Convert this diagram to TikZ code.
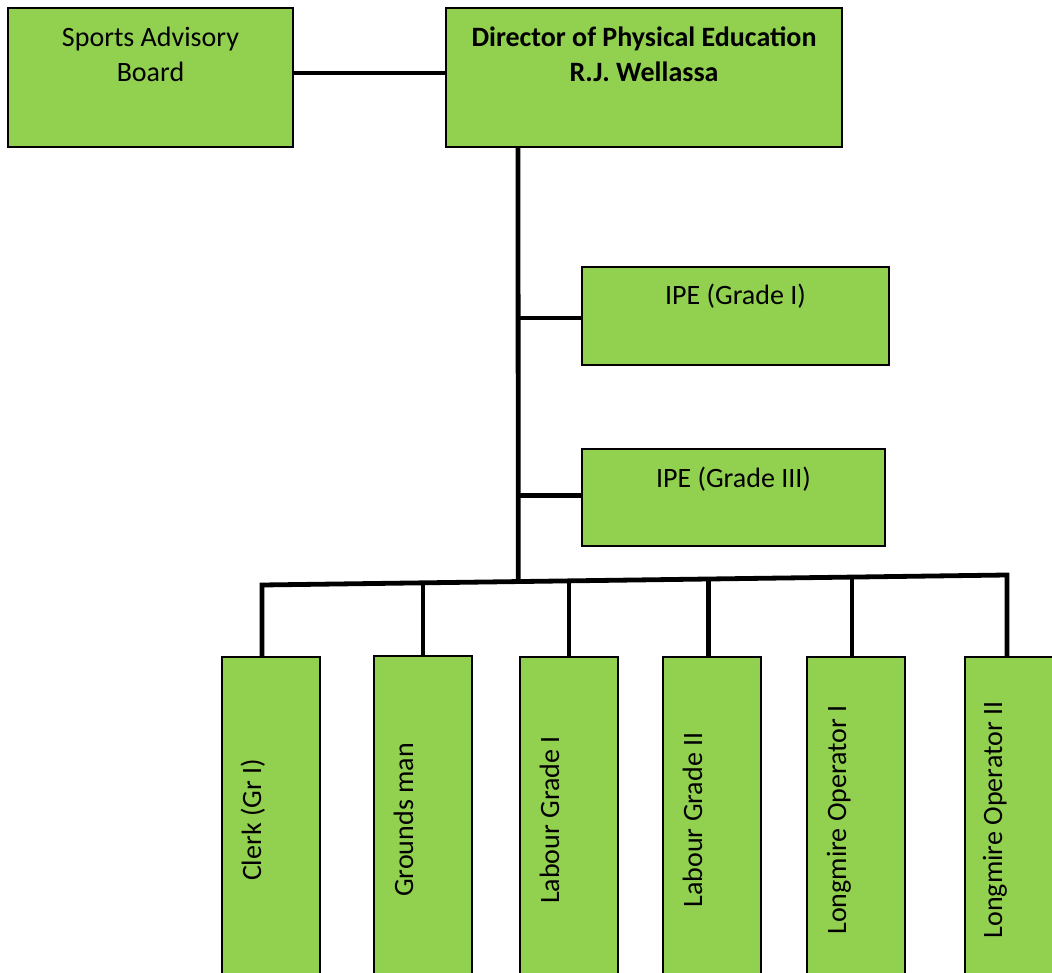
\documentclass[tikz,border=0pt]{standalone}
\usepackage{fontspec}
\setmainfont{Carlito}
\usetikzlibrary{calc}
\definecolor{boxgreen}{HTML}{92D050}
\begin{document}
\begin{tikzpicture}[x=1pt,y=-1pt,
  box/.style={draw=black,fill=boxgreen,line width=2.6pt,inner sep=0pt,outer sep=0pt,anchor=north west},
  conn/.style={line width=4.8pt,draw=black},
  lbl/.style={font=\fontsize{28}{35}\selectfont,inner sep=0pt,align=center},
  vlbl/.style={font=\fontsize{28}{35}\selectfont,inner sep=0pt,rotate=90,anchor=base}]
\useasboundingbox (0,0) rectangle (1052,973);
\clip (0,0) rectangle (1052,973);

% top boxes
\node[box,minimum width=285pt,minimum height=139pt] (sab) at (8,8) {};
\node[box,minimum width=396pt,minimum height=139pt] (dir) at (446,8) {};
\node[lbl,anchor=north] (sabT) at ($(sab.north)+(0,19)$) {Sports Advisory\\Board};
\node[lbl,anchor=north] (dirT) at ($(dir.north)+(0,19)$) {\bfseries Director of Physical Education\\\bfseries R.J. Wellassa};

% IPE boxes
\node[box,minimum width=307pt,minimum height=98pt] (ipe1) at (582,267) {};
\node[box,minimum width=303pt,minimum height=97pt] (ipe3) at (582,449) {};
\node[lbl,anchor=base] (ipe1T) at ($(ipe1.north)+(0,38)$) {IPE (Grade I)};
\node[lbl,anchor=base] (ipe3T) at ($(ipe3.north)+(0,38)$) {IPE (Grade III)};

% bottom boxes
\node[box,minimum width=98pt,minimum height=340pt] (clerk) at (222,657) {};
\node[box,minimum width=98pt,minimum height=340pt] (grounds) at (374,656) {};
\node[box,minimum width=98pt,minimum height=340pt] (lab1) at (520,657) {};
\node[box,minimum width=98pt,minimum height=340pt] (lab2) at (663,657) {};
\node[box,minimum width=98pt,minimum height=340pt] (lm1) at (807,657) {};
\node[box,minimum width=98pt,minimum height=340pt] (lm2) at (965,657) {};

\node[vlbl] (clerkT) at ($(clerk.north)+(-10,163)$) {Clerk (Gr I)};
\node[vlbl] (groundsT) at ($(grounds.north)+(-10,164)$) {Grounds man};
\node[vlbl] (lab1T) at ($(lab1.north)+(-10,163)$) {Labour Grade I};
\node[vlbl] (lab2T) at ($(lab2.north)+(-10,163)$) {Labour Grade II};
\node[vlbl] (lm1T) at ($(lm1.north)+(-10,163)$) {Longmire Operator I};
\node[vlbl] (lm2T) at ($(lm2.north)+(-12,163)$) {Longmire Operator II};

% connectors
\coordinate (tx) at (518,0);
\coordinate (busL) at (262,585);
\coordinate (busR) at (1007,575);
\coordinate (busT) at ($(busL)!0.344!(busR)$);
\coordinate (busG) at ($(busL)!0.216!(busR)$);
\coordinate (busL1) at ($(busL)!0.412!(busR)$);
\coordinate (busL2) at ($(busL)!0.599!(busR)$);
\coordinate (busM1) at ($(busL)!0.792!(busR)$);

\draw[conn] ($(sab.east)+(0,-4.5)$) -- ($(dir.west)+(0,-4.5)$);
\draw[conn] (dir.south -| tx) -- (busT);
\draw[conn] ($(ipe1.west -| tx)+(0,2)$) -- ($(ipe1.west)+(0,2)$);
\draw[conn] ($(ipe3.west -| tx)+(0,-2)$) -- ($(ipe3.west)+(0,-2)$);
\draw[conn] (clerk.north -| busL) -- (busL) -- (busR) -- (lm2.north -| busR);
\draw[conn] (busG) -- (grounds.north -| busG);
\draw[conn] ($(busL1)+(0,2)$) -- (lab1.north -| busL1);
\draw[conn] (busL2) -- (lab2.north -| busL2);
\draw[conn] (busM1) -- (lm1.north -| busM1);
\end{tikzpicture}
\end{document}
